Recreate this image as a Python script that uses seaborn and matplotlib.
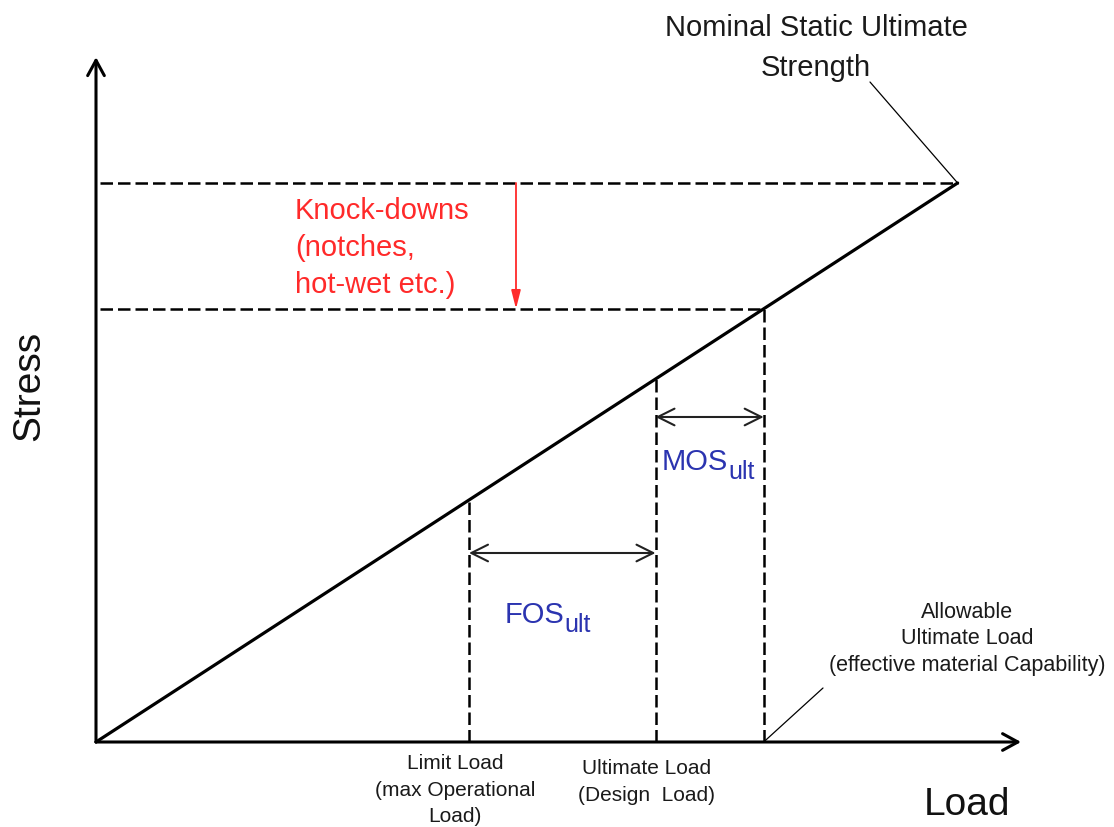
import matplotlib
matplotlib.use("Agg")
import matplotlib.pyplot as plt
import seaborn as sns
import pandas as pd

sns.set_theme(style="white")
plt.rcParams['font.family'] = ['Liberation Sans', 'DejaVu Sans']

# loads normalised so that limit load = 1, stress in the same units
load_names = ['Limit Load\n(max Operational\nLoad)',
              'Ultimate Load\n(Design  Load)',
              'Allowable\nUltimate Load\n(effective material Capability)']
load_levels = [1.0, 1.5, 1.79]
nominal_load = 2.31
stress_per_load = 1.0
knockdown_text = 'Knock-downs\n(notches,\nhot-wet etc.)'
nominal_text = 'Nominal Static Ultimate\nStrength'
margin_names = ['FOS', 'MOS']
margin_sub = 'ult'

RED = '#ff2a2a'
BLUE = '#2b34b0'
INK = '#1a1a1a'

W, H = 1114, 827
fig = plt.figure(figsize=(W / 100, H / 100), dpi=100)
ax = fig.add_axes([0, 0, 1, 1])


def fp(x, y):
    # pixel position (top-left origin) -> figure fraction
    return x / W, 1 - y / H


nominal_stress = nominal_load * stress_per_load
allow_stress = load_levels[2] * stress_per_load

# main load-stress line
line_df = pd.DataFrame({'load': [0, nominal_load], 'stress': [0, nominal_stress]})
sns.lineplot(data=line_df, x='load', y='stress', color='black', lw=2.3, ax=ax)

# axes with arrows
ax_arrow = dict(arrowstyle='->,head_length=0.55,head_width=0.3', lw=2.2, color='black',
                shrinkA=0, shrinkB=0, mutation_scale=20)
ax.annotate('', xy=(0, 2.83), xytext=(0, 0), arrowprops=ax_arrow)
ax.annotate('', xy=(2.48, 0), xytext=(0, 0), arrowprops=ax_arrow)

# dashed guides
dash = dict(color='black', lw=1.8, ls=(0, (5, 2)))
ax.plot([0.01, nominal_load], [nominal_stress] * 2, **dash)
ax.plot([0.01, load_levels[2]], [allow_stress] * 2, **dash)
for L in load_levels:
    ax.plot([L, L], [0, L * stress_per_load], **dash)

# knock-down arrow
ax.annotate('', xy=(1.126, allow_stress), xytext=(1.126, nominal_stress),
            arrowprops=dict(arrowstyle='-|>,head_length=0.55,head_width=0.14', color=RED,
                            lw=1.3, shrinkA=0, shrinkB=0, mutation_scale=20))

# FOS / MOS double arrows
dbl = dict(arrowstyle='<->,head_length=0.6,head_width=0.3', color='#222222', lw=1.5,
           shrinkA=0, shrinkB=0, mutation_scale=20)
ax.annotate('', xy=(load_levels[1], 0.781), xytext=(load_levels[0], 0.781), arrowprops=dbl)
ax.annotate('', xy=(load_levels[2], 1.343), xytext=(load_levels[1], 1.343), arrowprops=dbl)

# leader lines
lead = dict(arrowstyle='-', lw=0.9, color='black', shrinkA=0, shrinkB=0)
ax.annotate('', xy=(nominal_load, nominal_stress), xytext=fp(870, 82),
            textcoords='figure fraction', arrowprops=lead)
ax.annotate('', xy=(load_levels[2], 0), xytext=fp(823, 688),
            textcoords='figure fraction', arrowprops=lead)

ax.set_xlim(-96 / 373, (W - 96) / 373)
ax.set_ylim((742 - H) / 242, 742 / 242)
ax.axis('off')

# texts
fig.text(*fp(816, 48), nominal_text, ha='center', va='center', fontsize=21,
         linespacing=1.55, color=INK)
fig.text(*fp(295, 248), knockdown_text, ha='left', va='center', fontsize=21,
         linespacing=1.42, color=RED)

renderer = fig.canvas.get_renderer()
for name, (x0, base) in zip(margin_names, [(505, 623), (662, 470)]):
    t = fig.text(*fp(x0, base), name, ha='left', va='baseline', fontsize=21, color=BLUE)
    x_end = t.get_window_extent(renderer).x1
    fig.text(x_end / W, 1 - (base + 9) / H, margin_sub, ha='left', va='baseline',
             fontsize=18, color=BLUE)

fig.text(*fp(455, 790), load_names[0], ha='center', va='center', fontsize=15,
         linespacing=1.5, color=INK)
fig.text(*fp(647, 782), load_names[1], ha='center', va='center', fontsize=15,
         linespacing=1.5, color=INK)
fig.text(*fp(967, 639), load_names[2], ha='center', va='center', fontsize=15.5,
         linespacing=1.35, color=INK)
fig.text(*fp(967, 805), 'Load', ha='center', va='center', fontsize=28, color='#111111')
fig.text(*fp(29, 386), 'Stress', ha='center', va='center', fontsize=28, rotation=90,
         color='#111111')

fig.savefig('out.png', dpi=100, facecolor='white')
